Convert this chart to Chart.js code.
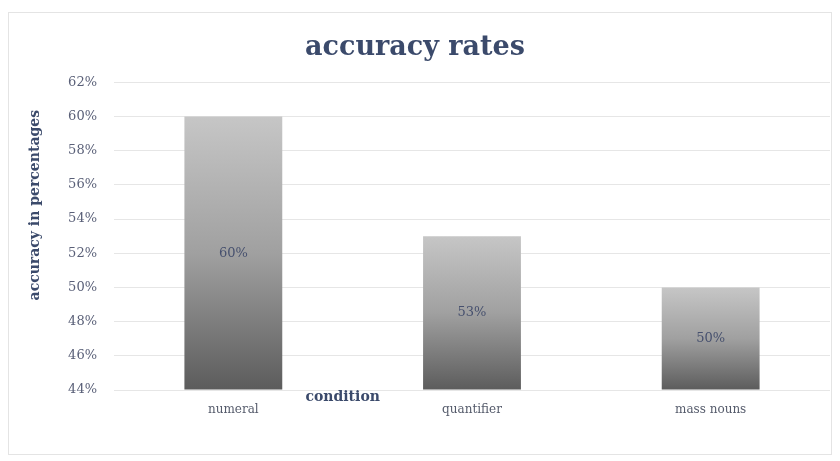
<!DOCTYPE html>
<html>
<head>
<meta charset="utf-8">
<script src="https://cdn.jsdelivr.net/npm/chart.js@4.4.1/dist/chart.umd.min.js"></script>
<style>
  html, body { margin: 0; padding: 0; background: #fff; }
  #wrap { width: 840px; height: 461px; }
</style>
</head>
<body>
<div id="wrap"><canvas id="chart" width="840" height="461"></canvas></div>
<script>
const categories = ['numeral', 'quantifier', 'mass nouns'];
const accuracy = [60, 53, 50];
const yMin = 44;
const yMax = 62;
const yStep = 2;

const serif = "'DejaVu Serif', 'Liberation Serif', serif";
const titleBlue = '#3b4a6b';

// vertical gradient per bar, light at top, dark at the base
function barGradient(context) {
  const chart = context.chart;
  const yScale = chart.scales.y;
  if (!chart.chartArea || !yScale) return '#999';
  const top = yScale.getPixelForValue(context.raw);
  const bottom = yScale.getPixelForValue(yMin);
  const g = chart.ctx.createLinearGradient(0, top, 0, bottom);
  g.addColorStop(0, '#c6c6c6');
  g.addColorStop(0.5, '#a0a0a0');
  g.addColorStop(1, '#5c5c5c');
  return g;
}

const extras = {
  id: 'extras',
  beforeDraw(chart) {
    const ctx = chart.ctx;
    ctx.save();
    ctx.fillStyle = '#fff';
    ctx.fillRect(0, 0, chart.width, chart.height);
    ctx.strokeStyle = '#e4e4e4';
    ctx.lineWidth = 1;
    ctx.strokeRect(8.5, 12.5, 823, 442);
    ctx.restore();
  },
  afterDatasetsDraw(chart) {
    const ctx = chart.ctx;
    const meta = chart.getDatasetMeta(0);
    const yScale = chart.scales.y;
    ctx.save();
    ctx.font = '13px ' + serif;
    ctx.fillStyle = '#46506e';
    ctx.textAlign = 'center';
    ctx.textBaseline = 'middle';
    meta.data.forEach((bar, i) => {
      const mid = (bar.y + yScale.getPixelForValue(yMin)) / 2;
      ctx.fillText(accuracy[i] + '%', bar.x, mid);
    });

    // axis titles
    const xScale = chart.scales.x;
    ctx.font = 'bold 14px ' + serif;
    ctx.fillStyle = titleBlue;
    const cx = (xScale.getPixelForValue(0) + xScale.getPixelForValue(1)) / 2 - 10;
    ctx.fillText('condition', cx, chart.chartArea.bottom + 7);

    ctx.translate(35, (chart.chartArea.top + chart.chartArea.bottom) / 2 - 31);
    ctx.rotate(-Math.PI / 2);
    ctx.font = 'bold 14px ' + serif;
    ctx.fillText('accuracy in percentages', 0, 0);
    ctx.restore();
  }
};

new Chart(document.getElementById('chart'), {
  type: 'bar',
  data: {
    labels: categories,
    datasets: [{
      data: accuracy,
      backgroundColor: barGradient,
      base: yMin,
      categoryPercentage: 0.82,
      barPercentage: 0.5
    }]
  },
  options: {
    responsive: false,
    animation: false,
    layout: { padding: { left: 0, right: 10, top: 0, bottom: 0 } },
    plugins: {
      legend: { display: false },
      tooltip: { enabled: false },
      title: {
        display: true,
        text: 'accuracy rates',
        color: titleBlue,
        font: { family: serif, size: 27, weight: 'bold' },
        padding: { top: 32, bottom: 18 }
      }
    },
    scales: {
      x: {
        grid: { display: false },
        border: { display: false },
        ticks: { color: '#555b6b', font: { family: serif, size: 12 }, padding: 5 },
        afterFit(scale) { scale.height = 71; }
      },
      y: {
        min: yMin,
        max: yMax,
        grid: { color: '#e6e6e6', drawTicks: false },
        border: { display: false },
        ticks: {
          stepSize: yStep,
          color: '#5a6078',
          padding: 17,
          font: { family: serif, size: 13 },
          callback: v => v + '%'
        },
        afterFit(scale) { scale.width = 114; }
      }
    }
  },
  plugins: [extras]
});
</script>
</body>
</html>
